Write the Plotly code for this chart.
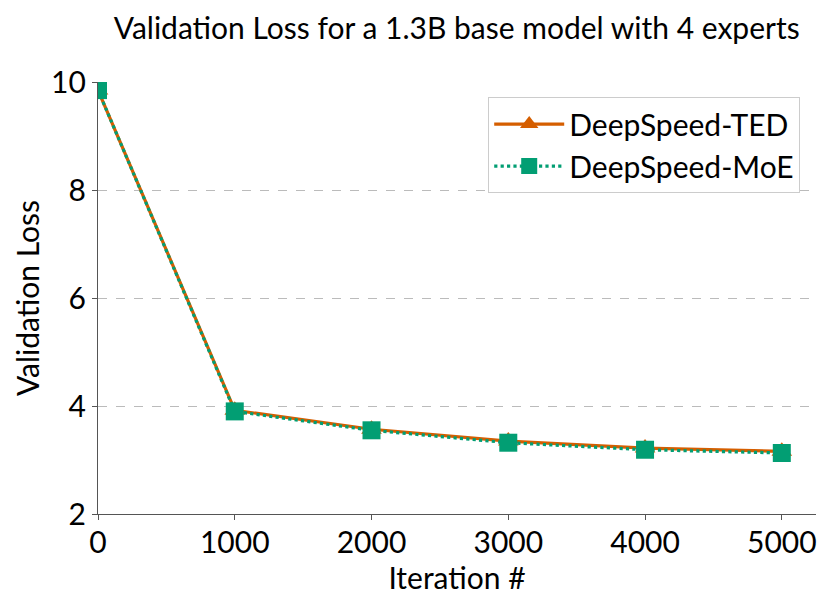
import plotly.graph_objects as go

iterations = [0, 1000, 2000, 3000, 4000, 5000]
ted_loss = [9.85, 3.92, 3.57, 3.35, 3.22, 3.16]
moe_loss = [9.85, 3.90, 3.55, 3.32, 3.19, 3.13]

x_ticks = [0, 1000, 2000, 3000, 4000, 5000]
y_ticks = [2, 4, 6, 8, 10]

ORANGE = "#d55e00"
GREEN = "#029e73"
FONT = "Lato"

fig = go.Figure()
fig.add_trace(go.Scatter(
    x=iterations, y=ted_loss, mode="lines+markers", name="DeepSpeed-TED",
    line=dict(color=ORANGE, width=3.2),
    marker=dict(symbol="triangle-up", size=18, color=ORANGE),
))
fig.add_trace(go.Scatter(
    x=iterations, y=moe_loss, mode="lines+markers", name="DeepSpeed-MoE",
    line=dict(color=GREEN, width=3.2, dash="dot"),
    marker=dict(symbol="square", size=18, color=GREEN),
))

# the page body adds an 8px offset, so margins are shifted by 8px
fig.update_layout(
    width=831, height=609,
    margin=dict(l=90, r=23, t=74, b=103),
    plot_bgcolor="white", paper_bgcolor="white",
    font=dict(family=FONT, size=30, color="black"),
    title=dict(text="Validation Loss for a 1.3B base model with 4 experts",
               x=0.54, xanchor="center", y=0.967, yanchor="middle",
               font=dict(size=30)),
    legend=dict(x=0.978, y=0.965, xanchor="right", yanchor="top",
                bordercolor="#cccccc", borderwidth=1, bgcolor="white",
                font=dict(size=30), itemwidth=70, tracegroupgap=8),
    showlegend=True,
)
fig.update_xaxes(
    range=[0, 5250], tickvals=x_ticks, showgrid=False, automargin=False,
    showline=True, linecolor="#555555", linewidth=1.2,
    ticks="outside", ticklen=5, tickcolor="#555555", ticklabelstandoff=-3,
    title=dict(text="Iteration #", font=dict(size=30), standoff=0),
    zeroline=False,
)
fig.update_yaxes(
    range=[2, 10], tickvals=y_ticks, showgrid=True, automargin=False,
    gridcolor="#bbbbbb", griddash="dash", gridwidth=1,
    showline=True, linecolor="#555555", linewidth=1.2,
    ticks="outside", ticklen=5, tickcolor="#555555",
    title=dict(text="Validation Loss", font=dict(size=30), standoff=2),
    zeroline=False,
)

fig.write_html("out.html")
